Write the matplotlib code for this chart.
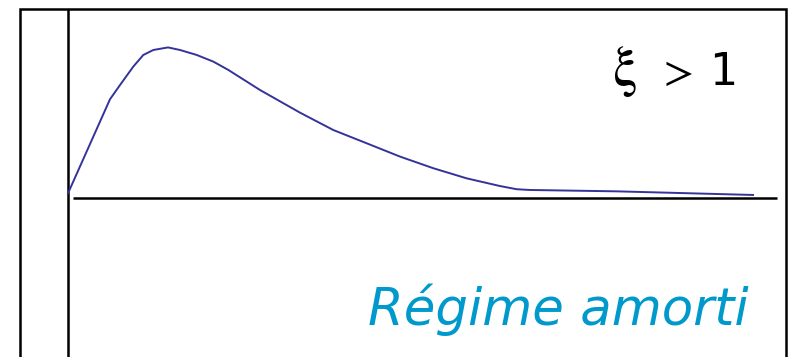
import numpy as np
import matplotlib
matplotlib.use("Agg")
import matplotlib.pyplot as plt
from matplotlib.patches import Rectangle

t = [0.0, 0.613, 0.759, 0.953, 1.099, 1.245, 1.460, 1.635, 1.879, 2.121,
     2.340, 2.803, 3.387, 3.873, 4.361, 4.847, 5.333, 5.820, 6.307, 6.550,
     6.745, 8.010, 10.0]
y = [0.031, 0.654, 0.748, 0.870, 0.947, 0.980, 0.997, 0.980, 0.947, 0.903,
     0.848, 0.715, 0.565, 0.450, 0.362, 0.274, 0.197, 0.130, 0.079, 0.058,
     0.053, 0.044, 0.020]

label_xi = r"$\mathrm{\xi}$"
label_gt = r"$>$"
label_one = "1"
label_regime = "Régime amorti"

plt.rcParams['mathtext.fontset'] = 'stix'

W, H = 790, 357
fig = plt.figure(figsize=(W / 100, H / 100), dpi=100)
ax = fig.add_axes([0, 0, 1, 1])
ax.set_xlim(-0.993, 10.54)
ax.set_ylim(-1.053, 1.311)
ax.axis('off')

lw = 1.8
# outer frame (bottom edge runs off the figure)
fig.patches.append(Rectangle((20 / W, -0.1), 766 / W, 1.1 - 9 / H,
                             transform=fig.transFigure, fill=False,
                             edgecolor='black', linewidth=lw))

# axes lines
ax.plot([0, 0], [1.252, -1.1], color='black', linewidth=lw,
        solid_capstyle='butt')
ax.plot([0.073, 10.35], [0, 0], color='black', linewidth=lw,
        solid_capstyle='butt')

# response curve
ax.plot(t, y, color='#333399', linewidth=1.4, solid_joinstyle='round')

base = 1 - 85 / H
fig.text(612 / W, base, label_xi, ha='left', va='baseline',
         fontsize=40, color='black')
fig.text(657 / W, base, label_gt, ha='left', va='baseline',
         fontsize=32, color='black')
fig.text(737 / W, base, label_one, ha='right', va='baseline',
         fontsize=32, family='DejaVu Sans', color='black')
fig.text(749 / W, 1 - 325 / H, label_regime, ha='right', va='baseline',
         fontsize=37, family='DejaVu Sans', style='italic', color='#0099CC')

fig.savefig('out.png', dpi=100)
